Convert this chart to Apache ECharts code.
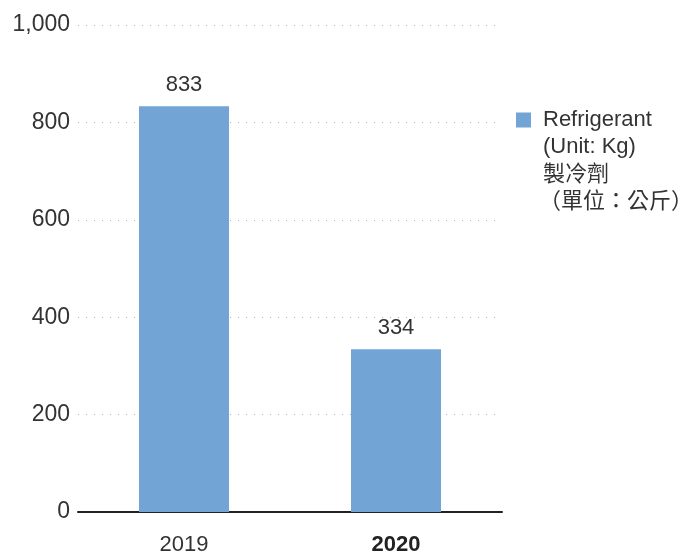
<!DOCTYPE html>
<html>
<head>
<meta charset="utf-8">
<style>
  html, body { margin: 0; padding: 0; background: #fff; }
  #chart { width: 684px; height: 555px; }
</style>
<script src="https://cdn.jsdelivr.net/npm/echarts@6/dist/echarts.min.js"></script>
</head>
<body>
<div id="chart"></div>
<script>
// Refrigerant usage by year (kg)
const years = ['2019', '2020'];
const refrigerantKg = [833, 334];
const yTicks = [0, 200, 400, 600, 800, 1000];

const seriesName = 'Refrigerant';
const unitLines = ['(Unit: Kg)', '製冷劑', '（單位：公斤）'];

const fontLatin = '"Liberation Sans", "Noto Sans", Arial, sans-serif';
const fontCJK = '"Liberation Sans", "Noto Sans CJK TC", sans-serif';
const textColor = '#333';
const barColor = '#72a4d5';
const fs = 22;

const chart = echarts.init(document.getElementById('chart'), null, { renderer: 'canvas' });

// Legend caption lines under the series name; a line opening with a
// full-width bracket is nudged left so its glyph lines up with the others.
const captionTexts = unitLines.map((line, i) => ({
  type: 'text',
  left: line.startsWith('（') ? 539 : 543,
  top: 136 + i * 27.5,
  style: {
    text: line,
    fontFamily: fontCJK,
    fontSize: fs,
    fill: textColor
  }
}));

chart.setOption({
  animation: false,
  grid: {
    left: 78, right: 182, top: 25, bottom: 43,
    containLabel: false,
    outerBoundsMode: 'none'
  },
  legend: {
    data: [seriesName],
    left: 516,
    top: 109,
    padding: 0,
    itemWidth: 15,
    itemHeight: 15,
    icon: 'rect',
    textStyle: {
      fontFamily: fontLatin,
      fontSize: fs,
      color: textColor,
      padding: [0, 0, 0, 7]
    }
  },
  xAxis: {
    type: 'category',
    data: years,
    axisLine: { lineStyle: { color: '#222', width: 2 } },
    axisTick: { show: false },
    axisLabel: {
      margin: 22,
      fontFamily: fontLatin,
      fontSize: fs,
      color: textColor,
      formatter: (v) => v === '2020' ? '{b|' + v + '}' : v,
      rich: {
        b: { fontFamily: fontLatin, fontSize: fs, fontWeight: 'bold', color: '#222' }
      }
    }
  },
  yAxis: {
    type: 'value',
    min: yTicks[0],
    max: yTicks[yTicks.length - 1],
    interval: yTicks[1] - yTicks[0],
    axisLine: { show: false },
    axisTick: { show: false },
    axisLabel: {
      margin: 8,
      fontFamily: fontLatin,
      fontSize: fs + 1,
      color: textColor,
      formatter: (v) => v.toLocaleString('en-US')
    },
    splitLine: {
      lineStyle: { color: '#b0b0b0', width: 1, type: [1, 7] }
    }
  },
  series: [{
    name: seriesName,
    type: 'bar',
    data: refrigerantKg,
    barWidth: 90,
    itemStyle: { color: barColor },
    label: {
      show: true,
      position: 'top',
      distance: 10,
      fontFamily: fontLatin,
      fontSize: fs,
      color: textColor
    }
  }],
  graphic: captionTexts
});
</script>
</body>
</html>
